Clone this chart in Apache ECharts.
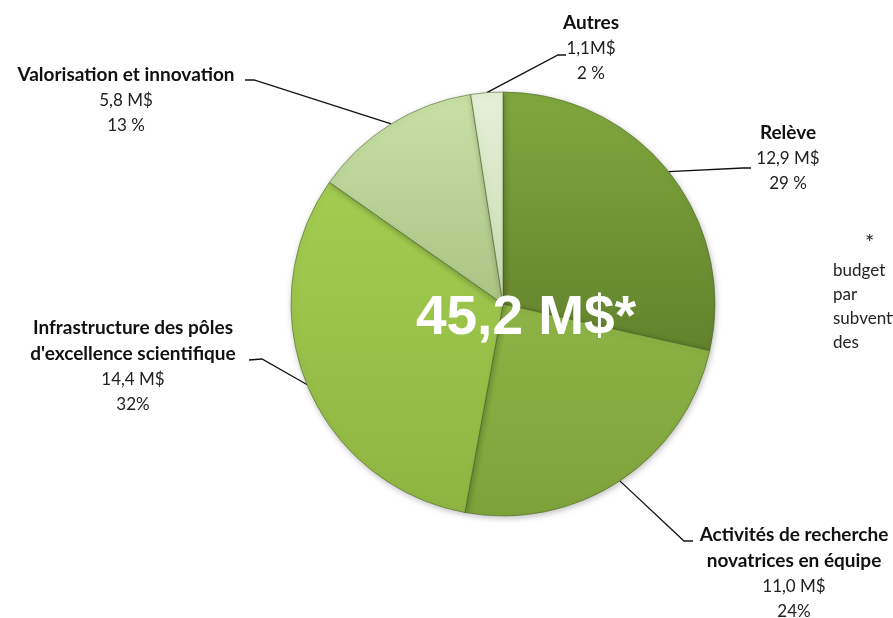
<!DOCTYPE html>
<html>
<head>
<meta charset="utf-8">
<script src="https://cdn.jsdelivr.net/npm/echarts@6/dist/echarts.min.js"></script>
<style>
  html, body { margin: 0; padding: 0; background: #fff; }
  #chart { width: 893px; height: 618px; }
</style>
</head>
<body>
<div id="chart"></div>
<script>
// budget breakdown, clockwise from 12 o'clock
const names = ['Relève', 'Activités de recherche\nnovatrices en équipe', 'Infrastructure des pôles\nd\'excellence scientifique', 'Valorisation et innovation', 'Autres'];
const amounts = [12.9, 11.0, 14.4, 5.8, 1.1];
const amountLabels = ['12,9 M$', '11,0 M$', '14,4 M$', '5,8 M$', '1,1M$'];
const pctLabels = ['29 %', '24%', '32%', '13 %', '2 %'];
const totalLabel = '45,2 M$*';
const noteLines = ['*', 'budget', 'par', 'subventions', 'des'];

// slice colours (top, bottom of gradient)
const colors = [
  ['#80a83e', '#62822c'],
  ['#8db446', '#7ea23a'],
  ['#a2cd50', '#8fb541'],
  ['#c8e0a6', '#a9c485'],
  ['#e6f0d8', '#c9dcb0']
];

// label placement: text centre x, top y, and label-line bend points
const labelPos = [
  { x: 788, y: 120, bend: [743, 168], end: [751, 168] },
  { x: 794, y: 522, bend: [684, 541], end: [693, 541] },
  { x: 133, y: 315, bend: [262, 359], end: [249, 360] },
  { x: 126, y: 62, bend: [254, 80], end: [245, 80] },
  { x: 591, y: 10, bend: [558, 55], end: [566, 55] }
];

const chart = echarts.init(document.getElementById('chart'));

const data = names.map((n, i) => ({
  name: n,
  value: amounts[i],
  itemStyle: {
    color: new echarts.graphic.LinearGradient(0, 0, 0, 1, [
      { offset: 0, color: colors[i][0] },
      { offset: 1, color: colors[i][1] }
    ])
  }
}));

const option = {
  animation: false,
  series: [{
    type: 'pie',
    center: [503, 304],
    radius: 212,
    startAngle: 90,
    clockwise: true,
    avoidLabelOverlap: false,
    data: data,
    itemStyle: {
      borderColor: 'rgba(70,95,35,0.55)',
      borderWidth: 1,
      shadowBlur: 6,
      shadowColor: 'rgba(0,0,0,0.25)',
      shadowOffsetX: 1,
      shadowOffsetY: 2
    },
    label: {
      show: true,
      position: 'outside',
      align: 'center',
      formatter: function (p) {
        const i = p.dataIndex;
        const title = names[i].split('\n').map(s => '{b|' + s + '}').join('\n');
        return title + '\n{v|' + amountLabels[i] + '}\n{v|' + pctLabels[i] + '}';
      },
      rich: {
        b: { fontFamily: 'Lato', fontWeight: 'bold', fontSize: 19, color: '#111', lineHeight: 26, align: 'center' },
        v: { fontFamily: 'Lato', fontSize: 17, color: '#222', lineHeight: 25, align: 'center' }
      }
    },
    labelLine: {
      show: true,
      lineStyle: { color: '#111', width: 1.3 }
    },
    labelLayout: function (params) {
      const lp = labelPos[params.dataIndex];
      const start = params.labelLinePoints ? params.labelLinePoints[0] : lp.bend;
      return {
        x: lp.x,
        y: lp.y,
        align: 'center',
        verticalAlign: 'top',
        labelLinePoints: [start, lp.bend, lp.end]
      };
    }
  }],
  graphic: [
    {
      type: 'text',
      x: 526,
      y: 319,
      z: 100,
      style: {
        text: totalLabel,
        fill: '#fff',
        font: 'bold 55px "Liberation Sans", Arial, sans-serif',
        textAlign: 'center',
        textVerticalAlign: 'middle'
      }
    },
    {
      type: 'text',
      x: 865,
      y: 232,
      style: { text: noteLines[0], fill: '#222', font: '22px Lato' }
    },
    {
      type: 'text',
      x: 833,
      y: 259,
      style: {
        text: noteLines.slice(1).join('\n'),
        fill: '#222',
        font: '17px Lato',
        lineHeight: 24
      }
    }
  ]
};

chart.setOption(option);
</script>
</body>
</html>
